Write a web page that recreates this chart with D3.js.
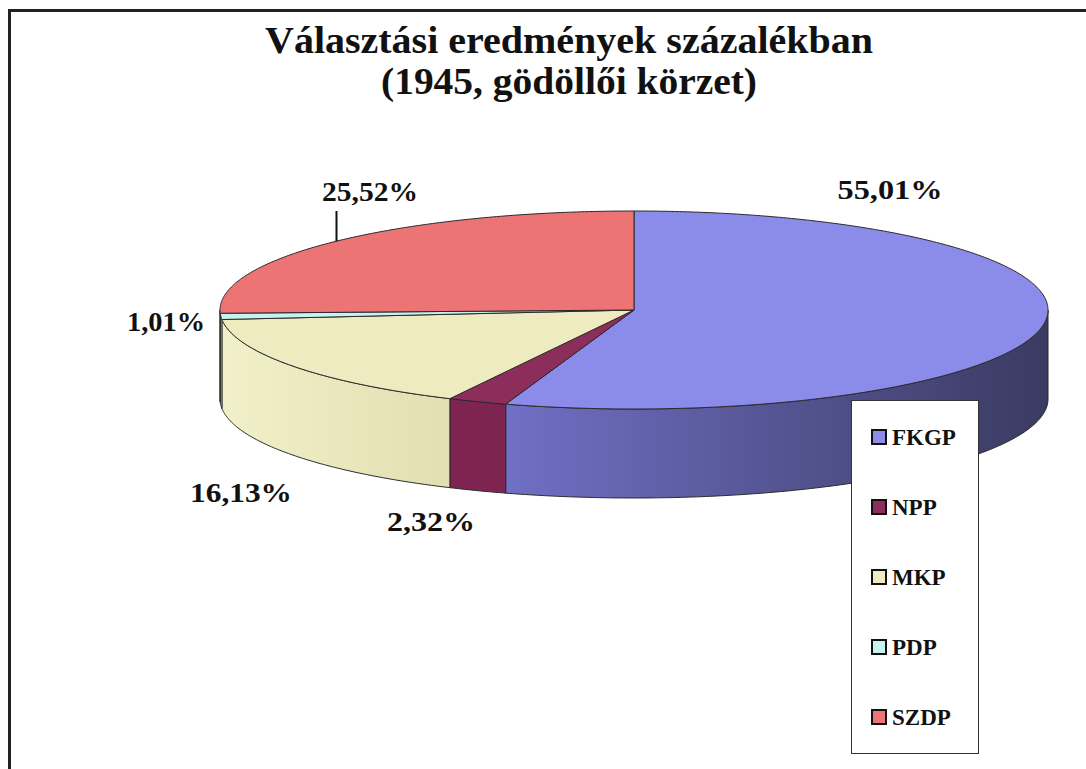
<!DOCTYPE html>
<html>
<head>
<meta charset="utf-8">
<script src="https://cdn.jsdelivr.net/npm/d3@7"></script>
<style>
  html, body { margin: 0; padding: 0; background: #fff; }
  svg { display: block; }
  text { font-family: "Liberation Serif", "DejaVu Serif", serif; font-weight: bold; fill: #111; }
</style>
</head>
<body>
<div id="content"></div>
<script>
/* Data */
const parties = ["FKGP", "NPP", "MKP", "PDP", "SZDP"];
const shares = [55.01, 2.32, 16.13, 1.01, 25.52];
const titleLines = ["Választási eredmények százalékban", "(1945, gödöllői körzet)"];

/* Look */
const WIDTH = 1086;
const HEIGHT = 769;
const topColors = ["#8B8BE9", "#8C2D5C", "#EDEBBF", "#C6F2F2", "#EC7474"];
const sideStops = [
  ["#8A8AE2", "#7070C6", "#3A3A62"],
  ["#86285A", "#7E2450", "#4A1530"],
  ["#F2F0C8", "#DEDBAE", "#A8A684"],
  ["#C6F2F2", "#B0DADA", "#7FA0A0"],
  ["#EC7474", "#C85E5E", "#8A3C3C"]
];

const CX = 634, CY = 310, RX = 414, RY = 99, DEPTH = 89;

// title line widths, label anchors (text centre) and widths: layout only
const titleWidths = [608, 376];
const labelAnchors = [[890, 190], [431, 522], [241, 493], [166, 322], [370, 192]];
const labelWidths = [105, 88, 102, 78, 96];
const labelLeader = [false, false, false, false, true];

const svg = d3.select("#content").append("svg")
  .attr("width", WIDTH).attr("height", HEIGHT);

const defs = svg.append("defs");

// frame that runs off the right and bottom edges
svg.append("path")
  .attr("d", `M9.5,${HEIGHT + 5} L9.5,10.5 L${WIDTH + 5},10.5`)
  .attr("fill", "none").attr("stroke", "#222").attr("stroke-width", 3);

// title
svg.selectAll("text.title")
  .data(titleLines)
  .enter().append("text")
  .attr("class", "title")
  .attr("x", 569)
  .attr("y", (d, i) => 53 + i * 41)
  .attr("text-anchor", "middle")
  .attr("textLength", (d, i) => titleWidths[i])
  .attr("lengthAdjust", "spacingAndGlyphs")
  .style("font-size", "38px")
  .text(d => d);

// angles: clockwise from 12 o'clock
const pie = d3.pie().sort(null).value(d => d)(shares);

const px = a => CX + RX * Math.sin(a);
const py = a => CY - RY * Math.cos(a);

function arcPoints(a0, a1, dy) {
  const n = Math.max(2, Math.ceil(Math.abs(a1 - a0) / 0.01));
  const pts = [];
  for (let k = 0; k <= n; k++) {
    const a = a0 + (a1 - a0) * k / n;
    pts.push([px(a), py(a) + dy]);
  }
  return pts;
}

// side gradients across the full width of the pie
pie.forEach((d, i) => {
  const g = defs.append("linearGradient")
    .attr("id", "side" + i)
    .attr("gradientUnits", "userSpaceOnUse")
    .attr("x1", CX - RX).attr("x2", CX + RX)
    .attr("y1", 0).attr("y2", 0);
  g.append("stop").attr("offset", 0).attr("stop-color", sideStops[i][0]);
  g.append("stop").attr("offset", 0.34).attr("stop-color", sideStops[i][1]);
  g.append("stop").attr("offset", 1).attr("stop-color", sideStops[i][2]);
});

const line = d3.line();

// front side walls (visible part is angle between pi/2 and 3pi/2)
const sides = svg.append("g");
pie.forEach((d, i) => {
  const a0 = Math.max(d.startAngle, Math.PI / 2);
  const a1 = Math.min(d.endAngle, 3 * Math.PI / 2);
  if (a1 <= a0) return;
  const upper = arcPoints(a0, a1, 0);
  const lower = arcPoints(a1, a0, DEPTH);
  sides.append("path")
    .attr("d", line(upper.concat(lower)) + "Z")
    .attr("fill", `url(#side${i})`)
    .attr("stroke", "#2a2a2a")
    .attr("stroke-width", 1)
    .attr("stroke-linejoin", "round");
});

// top faces
const tops = svg.append("g");
pie.forEach((d, i) => {
  const pts = [[CX, CY]].concat(arcPoints(d.startAngle, d.endAngle, 0));
  tops.append("path")
    .attr("d", line(pts) + "Z")
    .attr("fill", topColors[i])
    .attr("stroke", "#2a2a2a")
    .attr("stroke-width", 1)
    .attr("stroke-linejoin", "round");
});

// percentage labels
const fmt = v => d3.format(".2f")(v).replace(".", ",") + "%";
const labels = svg.append("g");
pie.forEach((d, i) => {
  const [lx, ly] = labelAnchors[i];
  labels.append("text")
    .attr("x", lx).attr("y", ly + 9)
    .attr("text-anchor", "middle")
    .attr("textLength", labelWidths[i])
    .attr("lengthAdjust", "spacingAndGlyphs")
    .style("font-size", "27px")
    .text(fmt(d.data));
  if (labelLeader[i]) {
    const mid = (d.startAngle + d.endAngle) / 2;
    labels.append("line")
      .attr("x1", px(mid)).attr("y1", py(mid))
      .attr("x2", px(mid)).attr("y2", ly + 19)
      .attr("stroke", "#111").attr("stroke-width", 2);
  }
});

// legend
const legend = svg.append("g").attr("transform", "translate(851,400)");
legend.append("rect")
  .attr("x", 0.5).attr("y", 0.5)
  .attr("width", 127).attr("height", 353)
  .attr("fill", "#fff").attr("stroke", "#333").attr("stroke-width", 1);

const legendY = d3.scalePoint().domain(parties).range([37, 317]);

const items = legend.selectAll("g.item")
  .data(parties)
  .enter().append("g")
  .attr("class", "item")
  .attr("transform", d => `translate(0,${legendY(d)})`);

items.append("rect")
  .attr("x", 21).attr("y", -7)
  .attr("width", 14).attr("height", 14)
  .attr("fill", (d, i) => topColors[i])
  .attr("stroke", "#111").attr("stroke-width", 2);

items.append("text")
  .attr("x", 41).attr("y", 8)
  .style("font-size", "23px")
  .text(d => d);
</script>
</body>
</html>
